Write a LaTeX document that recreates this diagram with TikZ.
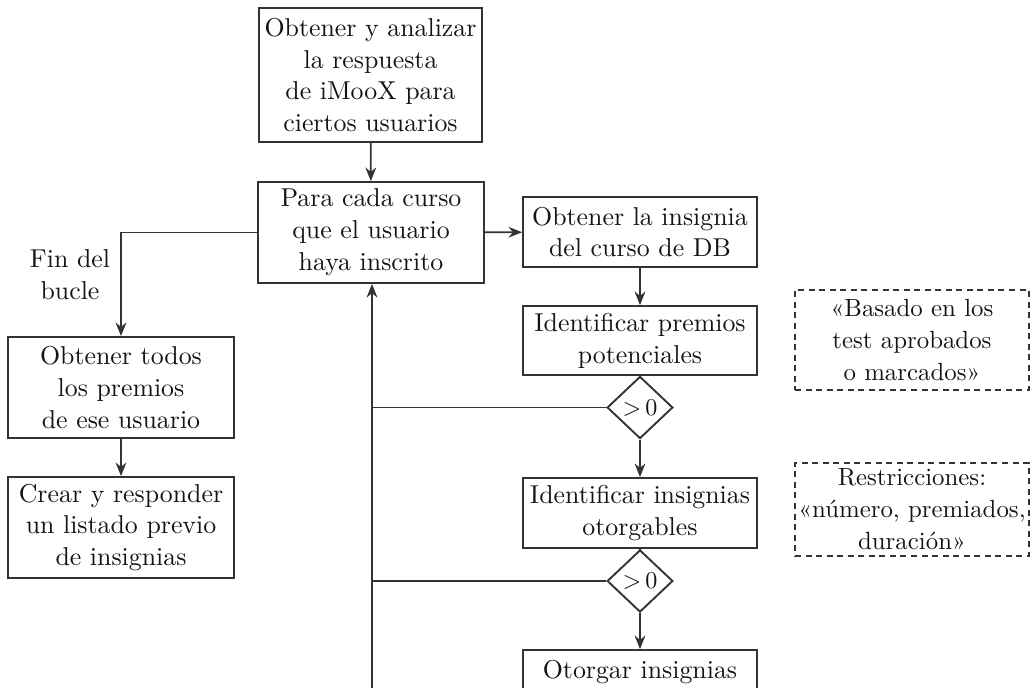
\documentclass[tikz,border=0pt]{standalone}
\usepackage{tikz}
\usepackage{xcolor}
\usetikzlibrary{shapes, arrows.meta, calc, positioning}
\definecolor{flowline}{rgb}{0.2, 0.2, 0.2}
\definecolor{flowtext}{rgb}{0.08, 0.08, 0.08}

\begin{document}
\begin{tikzpicture}[x=0.014cm, y=-0.014cm,
        box/.style={draw=flowline, line width=0.75pt, rectangle, align=center, inner sep=2pt, text=flowtext, font=\fontsize{10.3}{12.7}\selectfont},
        note/.style={box, inner xsep=1pt, dash pattern=on 2.4pt off 1.8pt, font=\fontsize{9.9}{12.7}\selectfont},
        check/.style={draw=flowline, line width=0.75pt, diamond, aspect=1, inner sep=0pt, minimum width=0.92cm, minimum height=0.87cm, text=flowtext, font=\fontsize{9.6}{12}\selectfont},
        link/.style={draw=flowline, line width=0.75pt},
        flow/.style={link, -{Stealth[length=1.9mm, width=1.5mm]}}]
        \clip (0, 0) rectangle (1033, 687);
        \fill [white] (0, 0) rectangle (1033, 687);

        % main column
        \node [box, minimum width=3.122cm, minimum height=1.876cm] (query) at (370.5, 75) {Obtener y analizar\\la respuesta\\de iMooX para\\ciertos usuarios};
        \node [box, minimum width=3.164cm, minimum height=1.414cm] (loop) at (371, 232.5) {Para cada curso\\que el usuario\\haya inscrito};

        % right column
        \node [box, minimum width=3.276cm, minimum height=0.98cm] (badge) at (640, 232) {Obtener la insignia\\del curso de DB};
        \node [box, minimum width=3.276cm, minimum height=0.966cm] (prizes) at (640, 340.5) {Identificar premios\\potenciales};
        \node [check] (checka) at (640, 407.5) {>\,0};
        \node [box, minimum width=3.276cm, minimum height=0.98cm] (awardable) at (640, 513) {Identificar insignias\\otorgables};
        \node [check] (checkb) at (640, 581) {>\,0};
        \node [box, minimum width=3.276cm, minimum height=0.98cm] (award) at (640, 685) {Otorgar insignias\\\phantom{x}};

        % left column
        \node [box, minimum width=3.164cm, minimum height=1.414cm] (allprizes) at (121, 387.5) {Obtener todos\\los premios\\de ese usuario};
        \node [box, minimum width=3.164cm, minimum height=1.414cm] (preview) at (121, 527.5) {Crear y responder\\un listado previo\\de insignias};
        \node [align=center, text=flowtext, font=\fontsize{10.3}{12.7}\selectfont] (endloop) at (70, 275) {Fin del\\bucle};

        % notes
        \node [note, minimum width=3.276cm, minimum height=1.4cm] (basis) at (912, 340) {«Basado en los\\test aprobados\\o marcados»};
        \node [note, minimum width=3.276cm, minimum height=1.302cm] (limits) at (912, 509.5) {Restricciones:\\«número, premiados,\\duración»};

        \coordinate (back) at (372, 700);

        \draw [flow] (query) -- (loop);
        \draw [flow] (loop) -- (badge);
        \draw [flow] (badge) -- (prizes);
        \draw [link] (prizes) -- (checka);
        \draw [flow] (checka) -- (awardable);
        \draw [link] (awardable) -- (checkb);
        \draw [flow] (checkb) -- (award);
        \draw [link] (checka.west) -- (checka.west -| back);
        \draw [link] (checkb.west) -- (checkb.west -| back);
        \draw [flow] (back) -- (loop.south -| back);
        \draw [flow] (loop) -| (allprizes);
        \draw [flow] (allprizes) -- (preview);
    \end{tikzpicture}
\end{document}
